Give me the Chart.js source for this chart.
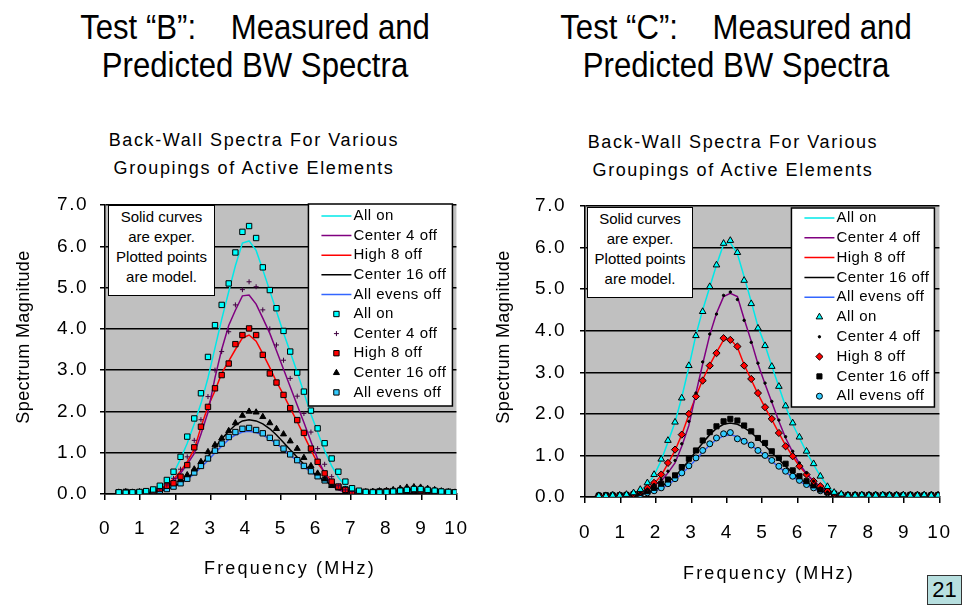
<!DOCTYPE html>
<html>
<head>
<meta charset="utf-8">
<script src="https://cdn.jsdelivr.net/npm/chart.js@4.4.1/dist/chart.umd.min.js"></script>
<style>
    body { margin: 0; background: #fff; width: 968px; height: 607px; position: relative; overflow: hidden;
           font-family: "Liberation Sans", Arial, sans-serif; color: #000; }
    canvas { position: absolute; top: 100px; }
    .head { position: absolute; top: 8px; width: 484px; text-align: center; font-size: 35px; line-height: 38px;
            font-family: "Liberation Sans", Arial, sans-serif; transform: scaleX(0.89); transform-origin: 50% 0; }
    .sub { position: absolute; width: 484px; text-align: center; font-size: 18px; line-height: 28px; letter-spacing: 1.6px; }
    .ytitle { position: absolute; width: 300px; text-align: center; font-size: 18px; line-height: 20px; letter-spacing: 0.4px;
              transform: translate(-50%, -50%) rotate(-90deg); }
    .xtitle { position: absolute; width: 300px; text-align: center; font-size: 18px; line-height: 20px; letter-spacing: 2.2px;
              transform: translate(-50%, -50%); }
    .note { position: absolute; box-sizing: border-box; background: #fff; border: 1.5px solid #000; text-align: center;
            font-size: 15px; line-height: 20px; padding-top: 1px; }
    .page { position: absolute; left: 927px; top: 575px; width: 35px; height: 30px; box-sizing: border-box;
            background: #B7DFDF; border: 1.5px solid #333; font-size: 22px; line-height: 27px; text-align: center; }
</style>
</head>
<body>

<div class="head" style="left: 13px;">Test “B”:&nbsp;&nbsp;&nbsp; Measured and<br>Predicted BW Spectra</div>
<div class="head" style="left: 494px;">Test “C”:&nbsp;&nbsp;&nbsp; Measured and<br>Predicted BW Spectra</div>

<div class="sub" style="left: 12px; top: 126px;">Back-Wall Spectra For Various<br>Groupings of Active Elements</div>
<div class="sub" style="left: 491px; top: 128px;">Back-Wall Spectra For Various<br>Groupings of Active Elements</div>

<canvas id="chartB" width="484" height="507" style="left: 0;"></canvas>
<canvas id="chartC" width="484" height="507" style="left: 484px;"></canvas>

<div class="ytitle" style="left: 23px; top: 337px;">Spectrum Magnitude</div>
<div class="ytitle" style="left: 503px; top: 337px;">Spectrum Magnitude</div>
<div class="xtitle" style="left: 290px; top: 568px;">Frequency (MHz)</div>
<div class="xtitle" style="left: 769px; top: 573px;">Frequency (MHz)</div>

<div class="note" style="left: 108px; top: 205px; width: 107px; height: 91px;">Solid curves<br>are exper.<br>Plotted points<br>are model.</div>
<div class="note" style="left: 587px; top: 207px; width: 106px; height: 91px;">Solid curves<br>are exper.<br>Plotted points<br>are model.</div>

<div class="page">21</div>

<script>
// frequency bins (MHz)
const freq = [
    0.39, 0.59, 0.78, 0.98, 1.17, 1.37, 1.56, 1.76, 1.95, 2.15,
    2.34, 2.54, 2.73, 2.93, 3.13, 3.32, 3.52, 3.71, 3.91, 4.10,
    4.30, 4.49, 4.69, 4.88, 5.08, 5.27, 5.47, 5.66, 5.86, 6.05,
    6.25, 6.45, 6.64, 6.84, 7.03, 7.23, 7.42, 7.62, 7.81, 8.01,
    8.20, 8.40, 8.59, 8.79, 8.98, 9.18, 9.38, 9.57, 9.77, 9.96
];

const seriesNames = ['All on', 'Center 4 off', 'High 8 off', 'Center 16 off', 'All evens off'];
const lineColors = ['#00E8E8', '#800080', '#FF0000', '#000000', '#3366FF'];
const yTicks = [0, 1, 2, 3, 4, 5, 6, 7];
const xTicks = [0, 1, 2, 3, 4, 5, 6, 7, 8, 9, 10];

// ---- Test B : measured (solid curves) ----
const bAllOnExp = [
    0.03, 0.03, 0.03, 0.04, 0.05, 0.08, 0.15, 0.30, 0.50, 0.85,
    1.23, 1.70, 2.19, 2.81, 3.54, 4.23, 4.90, 5.53, 6.08, 6.13,
    5.90, 5.43, 4.92, 4.42, 3.90, 3.44, 2.95, 2.45, 1.93, 1.50,
    1.05, 0.68, 0.40, 0.20, 0.10, 0.05, 0.03, 0.03, 0.02, 0.03,
    0.04, 0.05, 0.06, 0.06, 0.05, 0.04, 0.03, 0.03, 0.02, 0.02
];
const bC4Exp = [
    0.02, 0.02, 0.03, 0.03, 0.04, 0.06, 0.10, 0.18, 0.30, 0.50,
    0.72, 0.98, 1.45, 1.98, 2.82, 3.50, 4.08, 4.45, 4.80, 4.82,
    4.60, 4.26, 3.89, 3.47, 3.02, 2.60, 2.15, 1.73, 1.27, 0.85,
    0.50, 0.20, 0.10, 0.05, 0.03, 0.03, 0.02, 0.02, 0.02, 0.03,
    0.03, 0.04, 0.05, 0.05, 0.04, 0.03, 0.03, 0.02, 0.02, 0.02
];
const bH8Exp = [
    0.02, 0.02, 0.03, 0.03, 0.04, 0.06, 0.12, 0.22, 0.36, 0.55,
    0.78, 1.08, 1.62, 2.12, 2.50, 2.92, 3.22, 3.50, 3.78, 3.85,
    3.70, 3.40, 3.06, 2.72, 2.40, 2.08, 1.75, 1.42, 1.07, 0.75,
    0.52, 0.30, 0.16, 0.08, 0.05, 0.03, 0.03, 0.02, 0.02, 0.03,
    0.03, 0.04, 0.04, 0.05, 0.04, 0.03, 0.03, 0.02, 0.02, 0.02
];
const bC16Exp = [
    0.03, 0.03, 0.03, 0.03, 0.04, 0.05, 0.07, 0.12, 0.18, 0.27,
    0.38, 0.53, 0.70, 0.91, 1.13, 1.33, 1.52, 1.67, 1.77, 1.80,
    1.77, 1.70, 1.58, 1.43, 1.25, 1.07, 0.89, 0.72, 0.56, 0.43,
    0.31, 0.22, 0.16, 0.10, 0.07, 0.05, 0.04, 0.04, 0.04, 0.05,
    0.06, 0.08, 0.10, 0.11, 0.10, 0.08, 0.06, 0.05, 0.04, 0.04
];
const bEvensExp = [
    0.03, 0.03, 0.03, 0.03, 0.04, 0.05, 0.07, 0.11, 0.17, 0.25,
    0.35, 0.49, 0.64, 0.81, 1.00, 1.16, 1.32, 1.43, 1.50, 1.52,
    1.49, 1.43, 1.33, 1.22, 1.08, 0.94, 0.80, 0.66, 0.53, 0.42,
    0.32, 0.24, 0.18, 0.13, 0.09, 0.07, 0.05, 0.04, 0.04, 0.04,
    0.05, 0.06, 0.07, 0.07, 0.06, 0.05, 0.04, 0.04, 0.03, 0.03
];

// ---- Test B : model (plotted points) ----
const bAllOnMod = [
    0.04, 0.03, 0.04, 0.05, 0.07, 0.11, 0.20, 0.34, 0.54, 0.90,
    1.39, 1.83, 2.44, 3.32, 4.09, 4.58, 5.10, 5.85, 6.35, 6.49,
    6.20, 5.49, 4.94, 4.50, 3.95, 3.45, 2.94, 2.48, 2.02, 1.59,
    1.23, 0.86, 0.54, 0.30, 0.14, 0.08, 0.05, 0.04, 0.04, 0.05,
    0.06, 0.08, 0.10, 0.12, 0.12, 0.10, 0.08, 0.06, 0.05, 0.04
];
const bC4Mod = [
    0.03, 0.03, 0.03, 0.04, 0.05, 0.07, 0.12, 0.22, 0.38, 0.60,
    0.90, 1.30, 1.80, 2.36, 3.00, 3.45, 3.93, 4.58, 4.95, 5.14,
    5.02, 4.46, 4.00, 3.61, 3.24, 2.80, 2.37, 1.95, 1.50, 1.10,
    0.72, 0.42, 0.20, 0.10, 0.06, 0.04, 0.03, 0.03, 0.04, 0.05,
    0.06, 0.07, 0.08, 0.09, 0.08, 0.07, 0.05, 0.04, 0.03, 0.03
];
const bH8Mod = [
    0.03, 0.03, 0.03, 0.04, 0.05, 0.08, 0.13, 0.20, 0.26, 0.42,
    0.70, 1.13, 1.63, 2.11, 2.56, 2.88, 3.16, 3.63, 3.85, 4.01,
    3.85, 3.37, 2.92, 2.70, 2.40, 2.08, 1.79, 1.48, 1.10, 0.78,
    0.50, 0.30, 0.18, 0.10, 0.06, 0.05, 0.04, 0.04, 0.05, 0.06,
    0.07, 0.08, 0.09, 0.10, 0.09, 0.08, 0.06, 0.05, 0.04, 0.04
];
const bC16Mod = [
    0.04, 0.05, 0.04, 0.05, 0.06, 0.08, 0.12, 0.18, 0.26, 0.34,
    0.46, 0.60, 0.78, 1.02, 1.19, 1.35, 1.53, 1.72, 1.90, 2.00,
    1.98, 1.87, 1.72, 1.58, 1.45, 1.28, 1.10, 0.88, 0.68, 0.50,
    0.36, 0.20, 0.14, 0.10, 0.08, 0.06, 0.05, 0.06, 0.07, 0.08,
    0.10, 0.13, 0.16, 0.17, 0.16, 0.13, 0.10, 0.07, 0.05, 0.04
];
const bEvensMod = [
    0.04, 0.05, 0.04, 0.04, 0.05, 0.06, 0.08, 0.12, 0.18, 0.26,
    0.37, 0.52, 0.68, 0.86, 1.05, 1.22, 1.38, 1.50, 1.58, 1.60,
    1.55, 1.47, 1.36, 1.24, 1.10, 0.96, 0.82, 0.68, 0.55, 0.43,
    0.33, 0.24, 0.17, 0.11, 0.08, 0.06, 0.05, 0.05, 0.06, 0.06,
    0.07, 0.08, 0.09, 0.09, 0.08, 0.07, 0.06, 0.05, 0.05, 0.04
];

// ---- Test C : measured ----
const cAllOnExp = [
    0.02, 0.02, 0.02, 0.03, 0.04, 0.07, 0.15, 0.30, 0.52, 0.88,
    1.32, 1.80, 2.40, 3.12, 3.90, 4.50, 5.05, 5.58, 6.08, 6.12,
    5.85, 5.30, 4.70, 4.10, 3.65, 3.15, 2.65, 2.18, 1.75, 1.42,
    1.08, 0.78, 0.50, 0.26, 0.12, 0.06, 0.03, 0.03, 0.03, 0.03,
    0.03, 0.03, 0.03, 0.03, 0.03, 0.03, 0.03, 0.03, 0.03, 0.03
];
const cC4Exp = [
    0.02, 0.02, 0.02, 0.03, 0.04, 0.06, 0.10, 0.18, 0.28, 0.38,
    0.58, 0.82, 1.22, 1.72, 2.50, 3.20, 3.90, 4.42, 4.82, 4.90,
    4.82, 4.28, 3.75, 3.20, 2.72, 2.28, 1.82, 1.42, 1.08, 0.80,
    0.56, 0.38, 0.24, 0.12, 0.06, 0.03, 0.03, 0.03, 0.03, 0.03,
    0.03, 0.03, 0.03, 0.03, 0.03, 0.03, 0.03, 0.03, 0.03, 0.03
];
const cH8Exp = [
    0.02, 0.02, 0.02, 0.03, 0.04, 0.07, 0.12, 0.20, 0.32, 0.52,
    0.80, 1.12, 1.50, 1.98, 2.42, 2.82, 3.18, 3.48, 3.78, 3.80,
    3.60, 3.18, 2.82, 2.48, 2.15, 1.86, 1.54, 1.24, 0.98, 0.74,
    0.55, 0.38, 0.25, 0.14, 0.07, 0.03, 0.03, 0.03, 0.03, 0.03,
    0.03, 0.03, 0.03, 0.03, 0.03, 0.03, 0.03, 0.03, 0.03, 0.03
];
const cC16Exp = [
    0.02, 0.02, 0.02, 0.03, 0.04, 0.05, 0.07, 0.11, 0.17, 0.25,
    0.36, 0.50, 0.67, 0.88, 1.10, 1.30, 1.50, 1.65, 1.75, 1.78,
    1.75, 1.67, 1.55, 1.40, 1.24, 1.07, 0.90, 0.74, 0.58, 0.45,
    0.33, 0.24, 0.16, 0.10, 0.07, 0.04, 0.03, 0.03, 0.03, 0.03,
    0.03, 0.03, 0.03, 0.03, 0.03, 0.03, 0.03, 0.03, 0.03, 0.03
];
const cEvensExp = [
    0.02, 0.02, 0.02, 0.03, 0.03, 0.04, 0.06, 0.09, 0.14, 0.20,
    0.30, 0.42, 0.56, 0.72, 0.90, 1.08, 1.25, 1.38, 1.47, 1.50,
    1.45, 1.36, 1.24, 1.12, 1.00, 0.86, 0.72, 0.60, 0.48, 0.38,
    0.28, 0.20, 0.13, 0.09, 0.06, 0.03, 0.03, 0.03, 0.03, 0.03,
    0.03, 0.03, 0.03, 0.03, 0.03, 0.03, 0.03, 0.03, 0.03, 0.03
];

// ---- Test C : model ----
const cAllOnMod = [
    0.03, 0.03, 0.04, 0.04, 0.06, 0.10, 0.18, 0.34, 0.54, 0.91,
    1.36, 1.80, 2.38, 3.16, 3.88, 4.46, 5.06, 5.58, 6.10, 6.17,
    5.88, 5.21, 4.65, 4.06, 3.64, 3.14, 2.66, 2.19, 1.78, 1.44,
    1.10, 0.80, 0.50, 0.25, 0.11, 0.07, 0.04, 0.04, 0.05, 0.04,
    0.04, 0.05, 0.04, 0.04, 0.05, 0.04, 0.04, 0.05, 0.04, 0.04
];
const cC4Mod = [
    0.03, 0.03, 0.03, 0.04, 0.05, 0.07, 0.11, 0.19, 0.30, 0.42,
    0.62, 0.88, 1.28, 1.82, 2.50, 3.25, 3.92, 4.40, 4.85, 4.93,
    4.75, 4.25, 3.72, 3.22, 2.74, 2.30, 1.85, 1.45, 1.10, 0.82,
    0.58, 0.38, 0.22, 0.12, 0.07, 0.04, 0.04, 0.04, 0.04, 0.04,
    0.04, 0.04, 0.04, 0.04, 0.04, 0.04, 0.04, 0.04, 0.04, 0.04
];
const cH8Mod = [
    0.03, 0.03, 0.03, 0.04, 0.05, 0.08, 0.13, 0.22, 0.34, 0.54,
    0.82, 1.14, 1.50, 2.00, 2.42, 2.80, 3.16, 3.46, 3.82, 3.78,
    3.62, 3.16, 2.84, 2.50, 2.16, 1.88, 1.54, 1.22, 0.98, 0.74,
    0.54, 0.38, 0.26, 0.14, 0.08, 0.05, 0.04, 0.04, 0.04, 0.04,
    0.04, 0.04, 0.04, 0.04, 0.04, 0.04, 0.04, 0.04, 0.04, 0.04
];
const cC16Mod = [
    0.03, 0.04, 0.03, 0.04, 0.05, 0.07, 0.10, 0.14, 0.22, 0.32,
    0.42, 0.52, 0.72, 0.92, 1.12, 1.36, 1.56, 1.70, 1.82, 1.88,
    1.84, 1.72, 1.58, 1.42, 1.30, 1.10, 0.94, 0.80, 0.64, 0.50,
    0.38, 0.28, 0.18, 0.12, 0.08, 0.05, 0.04, 0.04, 0.05, 0.04,
    0.04, 0.05, 0.04, 0.04, 0.04, 0.05, 0.04, 0.04, 0.04, 0.04
];
const cEvensMod = [
    0.04, 0.04, 0.05, 0.04, 0.04, 0.05, 0.06, 0.10, 0.15, 0.22,
    0.32, 0.44, 0.58, 0.75, 0.94, 1.12, 1.28, 1.42, 1.52, 1.55,
    1.40, 1.34, 1.25, 1.12, 1.00, 0.88, 0.74, 0.62, 0.50, 0.40,
    0.30, 0.22, 0.15, 0.10, 0.07, 0.05, 0.05, 0.05, 0.04, 0.05,
    0.05, 0.04, 0.05, 0.05, 0.04, 0.05, 0.05, 0.04, 0.05, 0.05
];

// marker looks for the model series
const marksB = [
    { style: 'rect', r: 3.8, fill: '#00FFFF', edge: '#000' },
    { style: 'cross', r: 2.5, fill: '#400040', edge: '#400040' },
    { style: 'rect', r: 3.8, fill: '#FF0000', edge: '#000' },
    { style: 'triangle', r: 3.5, fill: '#000', edge: '#000' },
    { style: 'rect', r: 3.8, fill: '#33CCFF', edge: '#000' }
];
const marksC = [
    { style: 'triangle', r: 3.8, fill: '#00FFFF', edge: '#000' },
    { style: 'circle', r: 1.2, fill: '#000', edge: '#000' },
    { style: 'rectRot', r: 3.6, fill: '#FF0000', edge: '#000' },
    { style: 'rect', r: 3.6, fill: '#000', edge: '#000' },
    { style: 'circle', r: 3, fill: '#33CCFF', edge: '#000' }
];

function toPoints(vals) {
    return freq.map((f, i) => ({ x: f, y: vals[i] }));
}

function buildDatasets(expSets, modSets, marks) {
    const lines = expSets.map((vals, i) => ({
        label: seriesNames[i],
        data: toPoints(vals),
        showLine: true,
        borderColor: lineColors[i],
        borderWidth: 1.5,
        pointRadius: 0,
        order: 1
    }));
    const points = modSets.map((vals, i) => ({
        label: seriesNames[i],
        data: toPoints(vals),
        showLine: false,
        pointStyle: marks[i].style,
        pointRadius: marks[i].r,
        pointBackgroundColor: marks[i].fill,
        pointBorderColor: marks[i].edge,
        pointBorderWidth: 1,
        order: 0
    }));
    return lines.concat(points);
}

function drawMarker(ctx, ds, x, y) {
    const r = ds.pointRadius;
    ctx.save();
    ctx.fillStyle = ds.pointBackgroundColor;
    ctx.strokeStyle = ds.pointBorderColor;
    ctx.lineWidth = ds.pointBorderWidth;
    ctx.beginPath();
    if (ds.pointStyle === 'rect') {
        const s = r * Math.SQRT1_2;
        ctx.rect(x - s, y - s, 2 * s, 2 * s);
    } else if (ds.pointStyle === 'rectRot') {
        ctx.moveTo(x, y - r); ctx.lineTo(x + r, y); ctx.lineTo(x, y + r); ctx.lineTo(x - r, y); ctx.closePath();
    } else if (ds.pointStyle === 'triangle') {
        ctx.moveTo(x, y - r); ctx.lineTo(x + 0.866 * r, y + 0.5 * r); ctx.lineTo(x - 0.866 * r, y + 0.5 * r); ctx.closePath();
    } else if (ds.pointStyle === 'cross') {
        ctx.moveTo(x - r, y); ctx.lineTo(x + r, y); ctx.moveTo(x, y - r); ctx.lineTo(x, y + r);
    } else {
        ctx.arc(x, y, r, 0, Math.PI * 2);
    }
    ctx.fill();
    ctx.stroke();
    ctx.restore();
}

// grey plot area, spaced axis text
const plotBg = {
    id: 'plotBg',
    beforeDraw(chart) {
        const { ctx, chartArea: a } = chart;
        ctx.save();
        ctx.fillStyle = '#C0C0C0';
        ctx.fillRect(a.left, a.top, a.width, a.height);
        ctx.restore();
        ctx.letterSpacing = '1.5px';
    }
};

// boxed legend inside the plot, top right
const boxLegend = {
    id: 'boxLegend',
    afterDatasetsDraw(chart, args, opts) {
        const { ctx, chartArea } = chart;
        const x = chartArea.right - opts.inset - opts.w;
        const y = chartArea.top + opts.top;
        ctx.save();
        ctx.fillStyle = '#fff';
        ctx.fillRect(x, y, opts.w, opts.h);
        ctx.strokeStyle = '#000';
        ctx.lineWidth = 1.5;
        ctx.strokeRect(x, y, opts.w, opts.h);
        ctx.beginPath();
        ctx.rect(x, y, opts.w - 4, opts.h);
        ctx.clip();
        ctx.font = '15px "Liberation Sans", Arial, sans-serif';
        ctx.letterSpacing = '0.5px';
        ctx.textBaseline = 'middle';
        chart.data.datasets.forEach((ds, i) => {
            const ry = y + opts.first + i * opts.step;
            if (ds.showLine) {
                ctx.strokeStyle = ds.borderColor;
                ctx.lineWidth = 1.5;
                ctx.beginPath();
                ctx.moveTo(x + 13, ry);
                ctx.lineTo(x + 43, ry);
                ctx.stroke();
            } else {
                drawMarker(ctx, ds, x + 28, ry);
            }
            ctx.fillStyle = '#000';
            ctx.fillText(ds.label, x + 45, ry);
        });
        ctx.restore();
    }
};

function makeChart(id, datasets, box) {
    return new Chart(document.getElementById(id), {
        type: 'scatter',
        data: { datasets: datasets },
        plugins: [plotBg, boxLegend],
        options: {
            responsive: false,
            animation: false,
            layout: { padding: { top: box.top, right: box.right, left: 0, bottom: 0 } },
            plugins: {
                legend: { display: false },
                title: { display: false },
                tooltip: { enabled: false },
                boxLegend: box.legend
            },
            scales: {
                x: {
                    type: 'linear',
                    min: xTicks[0],
                    max: xTicks[xTicks.length - 1],
                    afterFit: s => { s.height = box.xh; },
                    afterBuildTicks: s => { s.ticks = xTicks.map(v => ({ value: v })); },
                    ticks: { color: '#000', font: { size: 19 }, padding: box.xpad, maxRotation: 0 },
                    grid: { drawOnChartArea: false, tickLength: 6, color: '#000', lineWidth: 1.5 },
                    border: { color: '#000', width: 1.5 }
                },
                y: {
                    min: yTicks[0],
                    max: yTicks[yTicks.length - 1],
                    afterFit: s => { s.width = box.yw; },
                    afterBuildTicks: s => { s.ticks = yTicks.map(v => ({ value: v })); },
                    ticks: { color: '#000', font: { size: 19 }, padding: box.ypad, callback: v => v.toFixed(1) },
                    grid: { color: '#000', lineWidth: 1.5, tickLength: 5 },
                    border: { color: '#000', width: 1.5 }
                }
            }
        }
    });
}

makeChart('chartB',
    buildDatasets([bAllOnExp, bC4Exp, bH8Exp, bC16Exp, bEvensExp],
                  [bAllOnMod, bC4Mod, bH8Mod, bC16Mod, bEvensMod], marksB),
    { top: 105, right: 11, yw: 105, xh: 113, xpad: 17, ypad: 12,
      legend: { inset: 4, top: -1, w: 144, h: 202, first: 12, step: 19.6 } });

makeChart('chartC',
    buildDatasets([cAllOnExp, cC4Exp, cH8Exp, cC16Exp, cEvensExp],
                  [cAllOnMod, cC4Mod, cH8Mod, cC16Mod, cEvensMod], marksC),
    { top: 106, right: 16, yw: 101, xh: 110, xpad: 18, ypad: 14,
      legend: { inset: 5, top: 2, w: 143, h: 199, first: 10, step: 19.8 } });
</script>
</body>
</html>
